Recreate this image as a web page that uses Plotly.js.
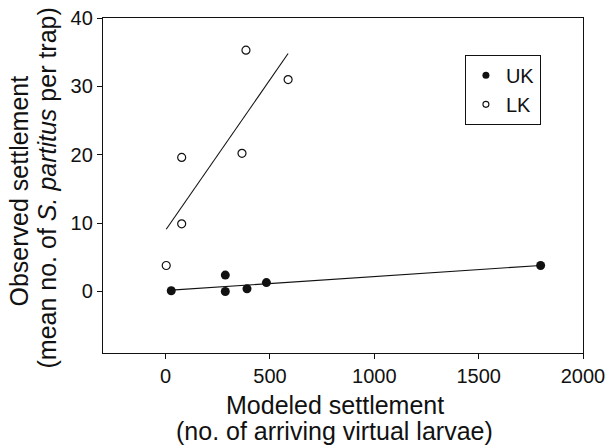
<!DOCTYPE html>
<html>
<head>
<meta charset="utf-8">
<script src="https://cdn.plot.ly/plotly-3.0.1.min.js"></script>
<style>html,body{margin:0;padding:0;background:#fff;}#chart{width:607px;height:447px;}</style>
</head>
<body>
<div id="chart"></div>
<script>
// Upper Keys (filled circles)
const ukModeled = [27, 286, 286, 390, 483, 1797];
const ukObserved = [0.1, 2.4, 0.0, 0.4, 1.3, 3.8];
// Lower Keys (open circles)
const lkModeled = [3, 77, 77, 366, 385, 587];
const lkObserved = [3.8, 9.9, 19.6, 20.2, 35.3, 31.0];
// Fitted lines (endpoints)
const ukFitX = [27, 1797];
const ukFitY = [0.2, 3.8];
const lkFitX = [3, 587];
const lkFitY = [9.1, 34.8];
const xTicks = [0, 500, 1000, 1500, 2000];
const yTicks = [0, 10, 20, 30, 40];
const seriesNames = ['UK', 'LK'];

const font = 'Liberation Sans, Arial, Helvetica, sans-serif';
const ink = '#111';
const traces = [
  {x: ukFitX, y: ukFitY, mode: 'lines', line: {color: ink, width: 1.1}, showlegend: false, hoverinfo: 'skip'},
  {x: lkFitX, y: lkFitY, mode: 'lines', line: {color: ink, width: 1.1}, showlegend: false, hoverinfo: 'skip'},
  {x: ukModeled, y: ukObserved, mode: 'markers', name: seriesNames[0], showlegend: false,
   marker: {symbol: 'circle', size: 9, color: ink, line: {width: 0}}},
  {x: lkModeled, y: lkObserved, mode: 'markers', name: seriesNames[1], showlegend: false,
   marker: {symbol: 'circle-open', size: 8, color: ink, line: {width: 1.2, color: ink}}},
  // legend entries (smaller symbols, as in the reference legend)
  {x: [null], y: [null], mode: 'markers', name: seriesNames[0],
   marker: {symbol: 'circle', size: 7, color: ink, line: {width: 0}}},
  {x: [null], y: [null], mode: 'markers', name: seriesNames[1],
   marker: {symbol: 'circle-open', size: 6, color: ink, line: {width: 1.1, color: ink}}}
];
const titleFont = {family: font, size: 25, color: ink};
const layout = {
  width: 607, height: 447,
  margin: {l: 103, r: 24, t: 18, b: 94},
  paper_bgcolor: '#fff', plot_bgcolor: '#fff',
  font: {family: font, size: 20, color: ink},
  xaxis: {
    range: [-300, 2000], tickvals: xTicks, ticktext: xTicks.map(String),
    showgrid: false, zeroline: false, showline: true, mirror: true,
    linecolor: ink, linewidth: 1.2, ticks: 'outside', ticklen: 5, tickwidth: 1, tickcolor: ink,
    tickfont: {size: 20}
  },
  yaxis: {
    range: [-9, 40], tickvals: yTicks, ticktext: yTicks.map(String),
    showgrid: false, zeroline: false, showline: true, mirror: true,
    linecolor: ink, linewidth: 1.2, ticks: 'outside', ticklen: 5, tickwidth: 1, tickcolor: ink,
    tickfont: {size: 20}
  },
  annotations: [
    {text: 'Modeled settlement', xref: 'paper', yref: 'paper', x: 0.4833, y: -0.1552,
     xanchor: 'center', yanchor: 'middle', showarrow: false, font: titleFont},
    {text: '(no. of arriving virtual larvae)', xref: 'paper', yref: 'paper', x: 0.4833, y: -0.2328,
     xanchor: 'center', yanchor: 'middle', showarrow: false, font: titleFont},
    {text: 'Observed settlement', xref: 'paper', yref: 'paper', x: -0.175, y: 0.4821, textangle: -90,
     xanchor: 'center', yanchor: 'middle', showarrow: false, font: titleFont},
    {text: '(mean no. of <i>S. partitus</i> per trap)', xref: 'paper', yref: 'paper', x: -0.1167, y: 0.494, textangle: -90,
     xanchor: 'center', yanchor: 'middle', showarrow: false, font: titleFont}
  ],
  legend: {
    x: 0.754, y: 0.89, xanchor: 'left', yanchor: 'top',
    bordercolor: ink, borderwidth: 1, bgcolor: '#fff',
    font: {size: 20}, itemwidth: 30, tracegroupgap: 0
  },
  showlegend: true
};
Plotly.newPlot('chart', traces, layout, {displayModeBar: false, staticPlot: true});
</script>
</body>
</html>
